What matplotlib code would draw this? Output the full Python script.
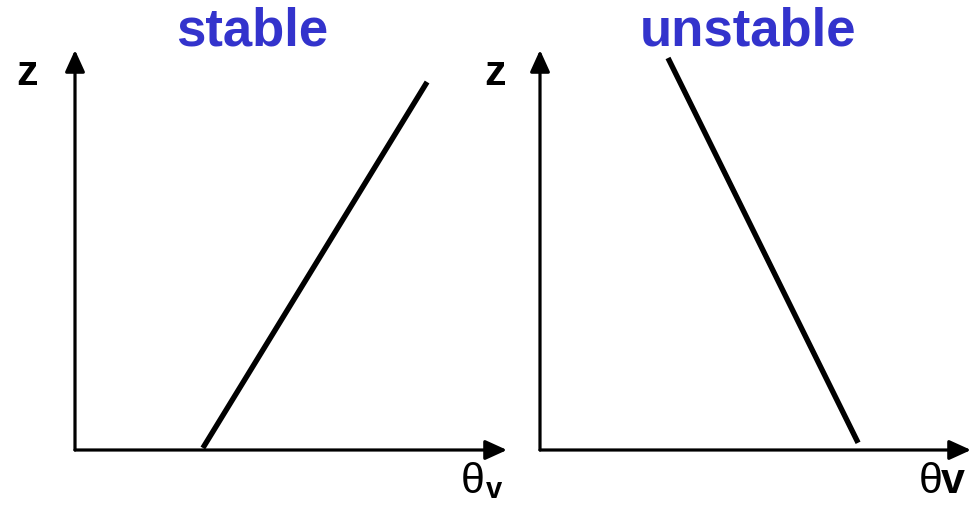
import matplotlib
matplotlib.use("Agg")
import matplotlib.pyplot as plt

# Data (axis units 0..100 along each panel's arrows)
panel_titles = ["stable", "unstable"]
stable_theta = [29.6, 81.5]
stable_z = [0.5, 92.0]
unstable_theta = [29.7, 73.8]
unstable_z = [98.0, 1.8]
y_label = "z"

W, H = 975, 505
fig = plt.figure(figsize=(W / 100, H / 100), dpi=100)

def fx(x):
    return x / W

def fy(y):
    return 1 - y / H

blue = "#3333CC"
sans = ["Liberation Sans", "DejaVu Sans"]

def make_panel(left_px, right_px, theta, z):
    ax = fig.add_axes([fx(left_px), fy(450), (right_px - left_px) / W, (450 - 50) / H])
    ax.set_xlim(0, 100)
    ax.set_ylim(0, 100)
    ax.axis("off")
    for xy_end in [(1, 0), (0, 1)]:
        ax.annotate("", xy=xy_end, xytext=(0, 0), xycoords="axes fraction",
                    textcoords="axes fraction",
                    arrowprops=dict(arrowstyle="-|>,head_length=1.1,head_width=0.5",
                                    lw=2.3, color="black", shrinkA=0, shrinkB=0,
                                    mutation_scale=12),
                    annotation_clip=False)
    ax.plot(theta, z, color="black", lw=3.9, solid_capstyle="butt", clip_on=False)
    return ax

make_panel(75, 507, stable_theta, stable_z)
make_panel(540, 971, unstable_theta, unstable_z)

# Titles
fig.text(fx(252), fy(46), panel_titles[0], color=blue, fontsize=38, fontweight="bold",
         family=sans, ha="center", va="baseline")
fig.text(fx(748), fy(46), panel_titles[1], color=blue, fontsize=38, fontweight="bold",
         family=sans, ha="center", va="baseline")

# z labels
fig.text(fx(27), fy(85), y_label, fontsize=31, fontweight="bold", family=sans,
         ha="center", va="baseline")
fig.text(fx(495), fy(85), y_label, fontsize=31, fontweight="bold", family=sans,
         ha="center", va="baseline")

# theta_v (left, with subscript)
fig.text(fx(461), fy(493), "\u03b8", fontsize=31, family=sans, ha="left", va="baseline")
fig.text(fx(486), fy(498), "v", fontsize=21, fontweight="bold", family=sans,
         ha="left", va="baseline")
# theta v (right, inline)
fig.text(fx(919), fy(493), "\u03b8", fontsize=31, family=sans, ha="left", va="baseline")
fig.text(fx(941), fy(493), "v", fontsize=31, fontweight="bold", family=sans,
         ha="left", va="baseline")

fig.savefig("out.png", dpi=100)
